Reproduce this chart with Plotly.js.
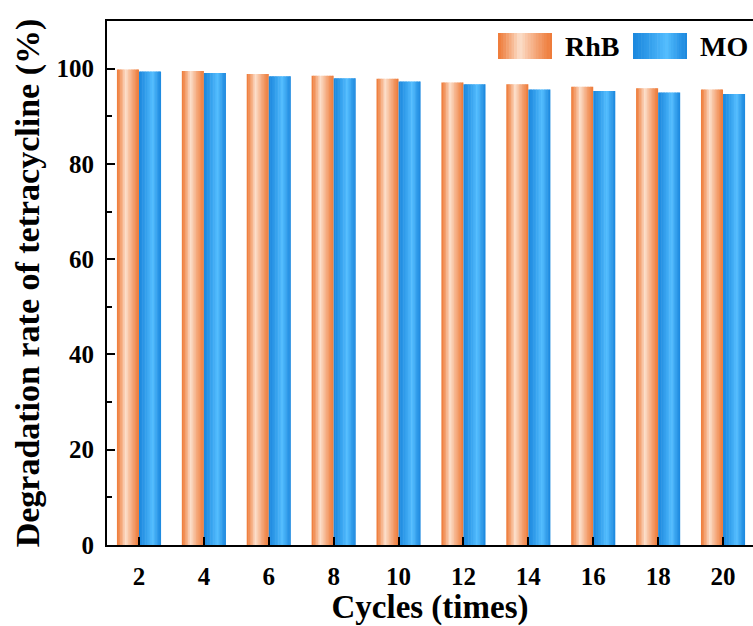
<!DOCTYPE html>
<html>
<head>
<meta charset="utf-8">
<script src="https://cdn.plot.ly/plotly-3.0.1.min.js"></script>
<style>html,body{margin:0;padding:0;background:#fff;}#chart{width:753px;height:626px;}</style>
</head>
<body>
<div id="chart"></div>
<script>
// ---- data ----
var cycles = [2, 4, 6, 8, 10, 12, 14, 16, 18, 20];
var tickLabels = ["2", "4", "6", "8", "10", "12", "14", "16", "18", "20"];
var seriesNames = ["RhB", "MO"];
var rhb = [99.8, 99.5, 98.9, 98.5, 97.9, 97.1, 96.7, 96.2, 95.9, 95.6];
var mo  = [99.4, 99.1, 98.4, 98.0, 97.3, 96.7, 95.6, 95.3, 95.0, 94.7];

// ---- style ----
var FONT = "Liberation Serif, Times New Roman, serif";
var BARW = 0.68;     // width of one bar in x units
var NSTRIP = 14;
var styles = [
  {edge: [238, 122, 56], hi: [252, 224, 204], peak: 0.40, offset: -BARW},
  {edge: [28, 136, 222], hi: [84, 190, 255], peak: 0.62, offset: 0}
];
function stripColor(st, t) {
  var d = t < st.peak ? (st.peak - t) / st.peak : (t - st.peak) / (1 - st.peak);
  var f = Math.pow(Math.max(0, 1 - d), 1.2);
  var c = st.edge.map(function (e, i) { return Math.round(e + (st.hi[i] - e) * f); });
  return "rgb(" + c.join(",") + ")";
}

var seriesValues = [rhb, mo];
var traces = [];
seriesValues.forEach(function (vals, s) {
  var st = styles[s];
  for (var k = 0; k < NSTRIP; k++) {
    var sw = BARW / NSTRIP;
    var t = (k + 0.5) / NSTRIP;
    traces.push({
      type: "bar",
      x: cycles,
      y: vals,
      name: seriesNames[s],
      offset: st.offset + k * sw,
      width: k < NSTRIP - 1 ? sw * 1.35 : sw,
      marker: {color: stripColor(st, t), line: {width: 0}},
      showlegend: false,
      hoverinfo: "skip"
    });
  }
});

// legend swatches (paper coords)
var plotL = 107, plotR = 753, plotT = 21, plotB = 545;
function px2x(p) { return (p - plotL) / (plotR - plotL); }
function px2y(p) { return (plotB - p) / (plotB - plotT); }
var shapes = [];
var annotations = [];
var legendItems = [
  {x0: 498, x1: 552, tx: 563},
  {x0: 633, x1: 687, tx: 698}
];
legendItems.forEach(function (it, s) {
  var n = 20, w = (it.x1 - it.x0) / n;
  for (var k = 0; k < n; k++) {
    var xe = Math.min(it.x1, it.x0 + (k + 1.2) * w);
    shapes.push({
      type: "rect", xref: "paper", yref: "paper",
      x0: px2x(it.x0 + k * w), x1: px2x(xe),
      y0: px2y(59), y1: px2y(33),
      fillcolor: stripColor(styles[s], (k + 0.5) / n), line: {width: 0}, layer: "above"
    });
  }
  annotations.push({
    xref: "paper", yref: "paper", x: px2x(it.tx), y: px2y(46),
    xanchor: "left", yanchor: "middle", showarrow: false,
    text: "<b>" + seriesNames[s] + "</b>",
    font: {family: FONT, size: 28, color: "#000"}
  });
});

var layout = {
  width: 753, height: 626,
  margin: {l: plotL, r: 0, t: plotT, b: 626 - plotB, pad: 0},
  paper_bgcolor: "#fff", plot_bgcolor: "#fff",
  barmode: "overlay",
  showlegend: false,
  font: {family: FONT, color: "#000"},
  xaxis: {
    range: [1.014, 20.924],
    tickvals: cycles, ticktext: tickLabels.map(function (t) { return "<b>" + t + "</b>"; }),
    ticks: "inside", ticklen: 8, tickwidth: 2, tickcolor: "#000",
    showline: true, linewidth: 2, linecolor: "#000", mirror: true,
    showgrid: false, zeroline: false,
    tickfont: {family: FONT, size: 25},
    ticklabelstandoff: 8,
    title: {text: "<b>Cycles (times)</b>", font: {family: FONT, size: 33}, standoff: 7}
  },
  yaxis: {
    range: [0, 110],
    tickvals: [0, 20, 40, 60, 80, 100],
    ticktext: ["<b>0</b>", "<b>20</b>", "<b>40</b>", "<b>60</b>", "<b>80</b>", "<b>100</b>"],
    ticks: "inside", ticklen: 8, tickwidth: 2, tickcolor: "#000",
    minor: {tickvals: [10, 30, 50, 70, 90], ticks: "inside", ticklen: 5, tickwidth: 2, tickcolor: "#000", showgrid: false},
    showline: true, linewidth: 2, linecolor: "#000", mirror: false,
    showgrid: false, zeroline: false,
    tickfont: {family: FONT, size: 25},
    ticklabelstandoff: 6,
    title: {text: "<b>Degradation rate of tetracycline (%)</b>", font: {family: FONT, size: 34}, standoff: 7}
  },
  shapes: shapes,
  annotations: annotations
};

Plotly.newPlot("chart", traces, layout, {displayModeBar: false, staticPlot: true});
</script>
</body>
</html>
